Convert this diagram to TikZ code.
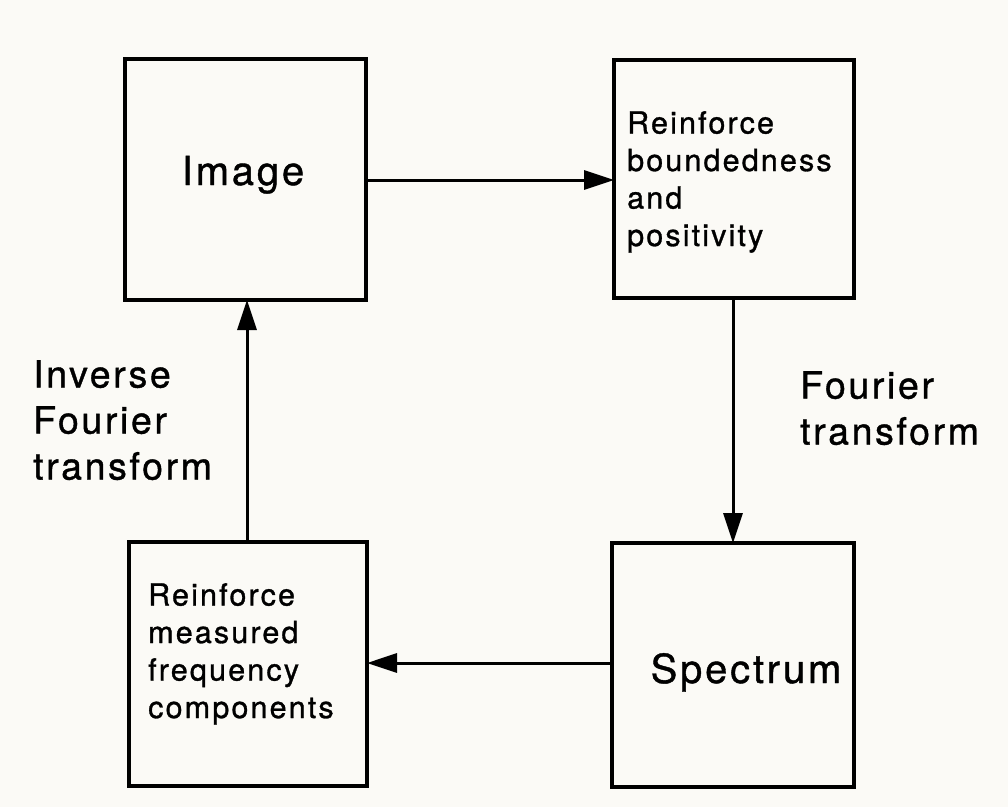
\documentclass[tikz,border=0pt]{standalone}
\usepackage{fontspec}
\setmainfont{TeX Gyre Heros}
\newfontfamily\diafont[LetterSpace=7,FakeBold=1.0]{TeX Gyre Heros}
\usetikzlibrary{arrows.meta}
\definecolor{paper}{RGB}{251,250,246}
\tikzset{
  blk/.style={draw=black, line width=4bp, rectangle, anchor=north west,
              inner sep=0pt, outer sep=0pt},
  arr/.style={line width=3bp, -{Triangle[length=30bp,width=19bp]}},
  bigtxt/.style={font={\diafont\fontsize{40bp}{46bp}\selectfont}, inner sep=0pt},
  smalltxt/.style={font={\diafont\fontsize{30.5bp}{37.5bp}\selectfont}, align=left,
                   anchor=north west, inner sep=0pt},
  labtxt/.style={font={\diafont\fontsize{37.5bp}{46bp}\selectfont}, align=left,
                 anchor=north west, inner sep=0pt}
}
\begin{document}
\begin{tikzpicture}[x=1bp,y=-1bp]
\fill[paper] (0,0) rectangle (1008,807);
\useasboundingbox (0,0) rectangle (1008,807);

\node[blk, minimum width=241bp, minimum height=241bp] (img) at (125,59) {};
\node[blk, minimum width=240bp, minimum height=238bp] (bnd) at (614,60) {};
\node[blk, minimum width=238bp, minimum height=244bp] (meas) at (129,542) {};
\node[blk, minimum width=242bp, minimum height=244bp] (spec) at (612,543) {};

\node[bigtxt, anchor=base] (timg) at (243,185) {Image};
\node[bigtxt, anchor=base] (tspec) at (746,683) {Spectrum};
\node[smalltxt] (tbnd) at (627,111) {Reinforce\\boundedness\\and\\positivity};
\node[smalltxt] (tmeas) at (148,583) {Reinforce\\measured\\frequency\\components};

\node[labtxt] (linv) at (33,360) {Inverse\\Fourier\\transform};
\node[labtxt] (lfwd) at (800,371) {Fourier\\transform};

\draw[arr] (img.east |- 0,180) -- (bnd.west |- 0,180);
\draw[arr] (bnd.south -| 733,0) -- (spec.north -| 733,0);
\draw[arr] (spec.west |- 0,663) -- (meas.east |- 0,663);
\draw[arr] (meas.north -| 247,0) -- (img.south -| 247,0);
\end{tikzpicture}
\end{document}
